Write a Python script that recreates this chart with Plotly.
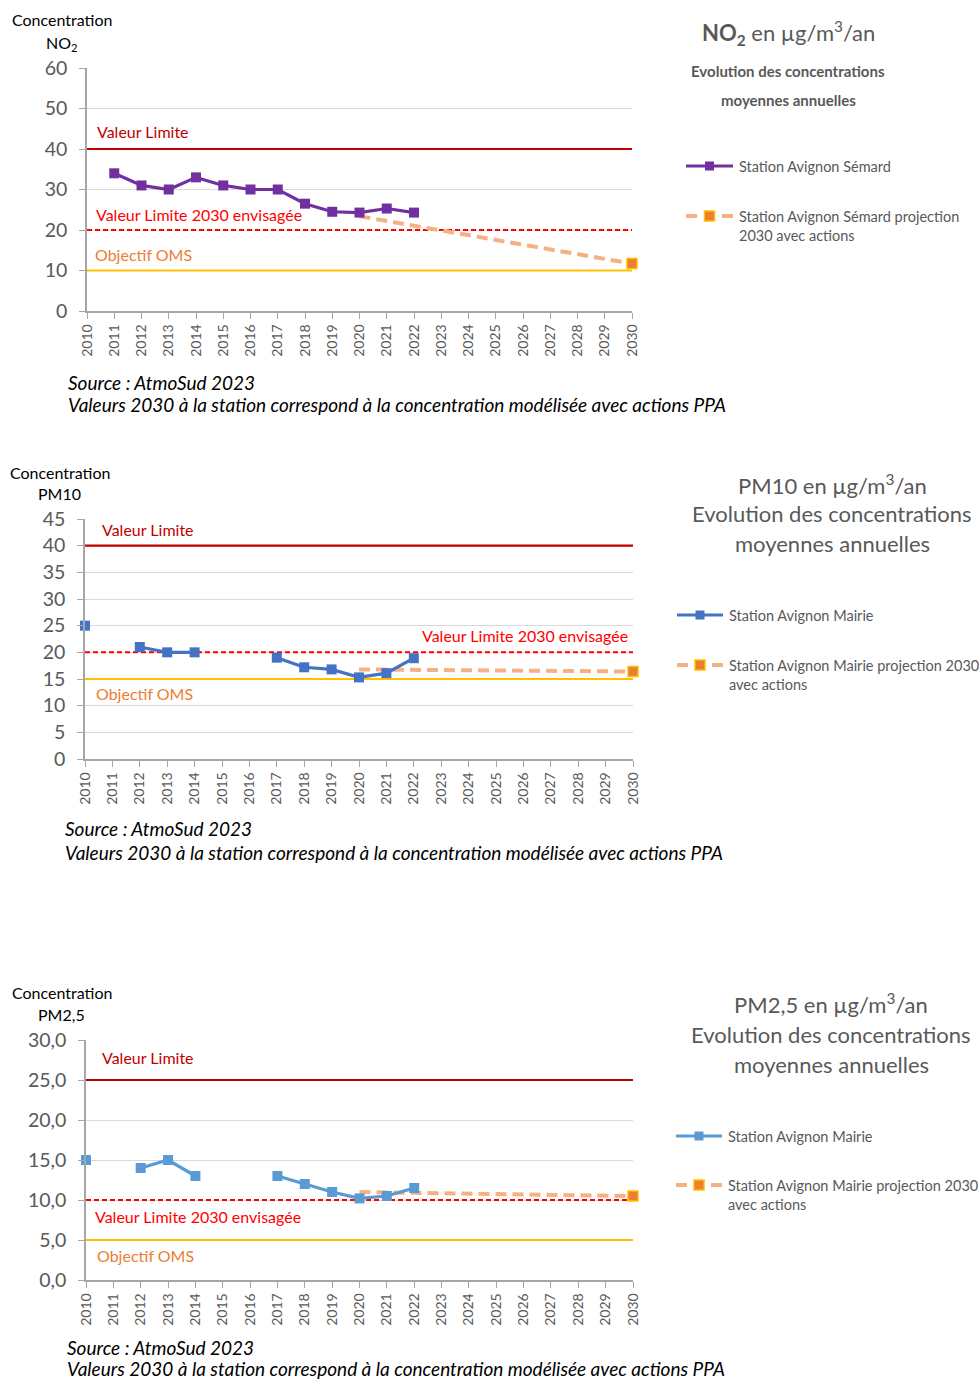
import plotly.graph_objects as go

W, H = 979, 1380

# NO2 - Station Avignon Sémard
no2_years = list(range(2011, 2023))
no2_values = [34, 31, 30, 33, 31, 30, 30, 26.5, 24.5, 24.3, 25.3, 24.3]
no2_proj_years = [2020, 2030]
no2_proj_values = [23.4, 11.7]
no2_limits = {"Valeur Limite": 40, "Valeur Limite 2030 envisagée": 20, "Objectif OMS": 10}

# PM10 - Station Avignon Mairie
pm10_years = list(range(2010, 2023))
pm10_values = [25, None, 21, 20, 20, None, None, 19, 17.2, 16.8, 15.3, 16.1, 18.9]
pm10_proj_years = [2020, 2030]
pm10_proj_values = [16.8, 16.4]
pm10_limits = {"Valeur Limite": 40, "Valeur Limite 2030 envisagée": 20, "Objectif OMS": 15}

# PM2,5 - Station Avignon Mairie
pm25_years = list(range(2010, 2023))
pm25_values = [15, None, 14, 15, 13, None, None, 13, 12, 11, 10.2, 10.5, 11.5]
pm25_proj_years = [2020, 2030]
pm25_proj_values = [11.0, 10.5]
pm25_limits = {"Valeur Limite": 25, "Valeur Limite 2030 envisagée": 10, "Objectif OMS": 5}

FONT = "Lato"
GREY_TXT = "#595959"
AXIS_GREY = "#A6A6A6"
GRID = "#D9D9D9"
C_LIMIT = "#C00000"
C_LIMIT30 = "#FF0000"
C_OMS_LINE = "#FFC000"
C_OMS_TXT = "#ED7D31"
C_PROJ = "#F4B183"
C_PROJ_MK = "#ED7D31"


def px(x):
    return x / W


def py(y):
    return 1 - y / H


fig = go.Figure()
annotations = []
shapes = []

panels = [
    dict(
        idx=1, x0=87, x1=632, ytop=68, ybot=311, yrange=[0, 60], dtick=10, fmt="d",
        yrs=no2_years, vals=no2_values, pyrs=no2_proj_years, pvals=no2_proj_values,
        limits=no2_limits, color="#7030A0",
        unit_lbl="NO<sub>2</sub>", unit_x=62, conc_x=10, conc_y=20, unit_y=43,
        lbl_pos={"Valeur Limite": (95, 131, "left"),
                 "Valeur Limite 2030 envisagée": (94, 214, "left"),
                 "Objectif OMS": (93, 255, "left")},
        title=["<b>NO<sub>2</sub></b> en µg/m<sup>3</sup>/an",
               "<b>Evolution des concentrations</b>", "<b>moyennes annuelles</b>"],
        title_x=788, title_y=[33, 71, 100], title_sizes=[22, 15, 15],
        leg_x0=686, leg_x1=733, leg_tx=737, leg_y=[166, 216],
        leg_names=["Station Avignon Sémard",
                   "Station Avignon Sémard projection<br>2030 avec actions"],
        src_x=66, src_y=[382, 405],
    ),
    dict(
        idx=2, x0=85, x1=633, ytop=519, ybot=759, yrange=[0, 45], dtick=5, fmt="d",
        yrs=pm10_years, vals=pm10_values, pyrs=pm10_proj_years, pvals=pm10_proj_values,
        limits=pm10_limits, color="#4472C4",
        unit_lbl="PM10", unit_x=59, conc_x=8, conc_y=472, unit_y=493,
        lbl_pos={"Valeur Limite": (100, 530, "left"),
                 "Valeur Limite 2030 envisagée": (630, 635, "right"),
                 "Objectif OMS": (94, 693, "left")},
        title=["PM10 en µg/m<sup>3</sup>/an", "Evolution des concentrations",
               "moyennes annuelles"],
        title_x=832, title_y=[484, 513, 543], title_sizes=[22, 22, 22],
        leg_x0=677, leg_x1=723, leg_tx=727, leg_y=[615, 665],
        leg_names=["Station Avignon Mairie",
                   "Station Avignon Mairie projection 2030<br>avec actions"],
        src_x=63, src_y=[828, 852],
    ),
    dict(
        idx=3, x0=86, x1=633, ytop=1040, ybot=1280, yrange=[0, 30], dtick=5, fmt=".1f",
        yrs=pm25_years, vals=pm25_values, pyrs=pm25_proj_years, pvals=pm25_proj_values,
        limits=pm25_limits, color="#5B9BD5",
        unit_lbl="PM2,5", unit_x=61, conc_x=10, conc_y=993, unit_y=1014,
        lbl_pos={"Valeur Limite": (100, 1057, "left"),
                 "Valeur Limite 2030 envisagée": (93, 1216, "left"),
                 "Objectif OMS": (95, 1255, "left")},
        title=["PM2,5 en µg/m<sup>3</sup>/an", "Evolution des concentrations",
               "moyennes annuelles"],
        title_x=831, title_y=[1004, 1034, 1064], title_sizes=[22, 22, 22],
        leg_x0=676, leg_x1=722, leg_tx=726, leg_y=[1136, 1185],
        leg_names=["Station Avignon Mairie",
                   "Station Avignon Mairie projection 2030<br>avec actions"],
        src_x=65, src_y=[1347, 1368],
    ),
]

limit_styles = {
    "Valeur Limite": dict(color=C_LIMIT, width=2.2, dash="solid"),
    "Valeur Limite 2030 envisagée": dict(color=C_LIMIT30, width=2, dash="5px,3px"),
    "Objectif OMS": dict(color=C_OMS_LINE, width=2, dash="solid"),
}
limit_text_colors = {
    "Valeur Limite": C_LIMIT,
    "Valeur Limite 2030 envisagée": C_LIMIT30,
    "Objectif OMS": C_OMS_TXT,
}

for p in panels:
    i = p["idx"]
    sfx = "" if i == 1 else str(i)
    xa, ya = "x" + sfx, "y" + sfx

    fig.update_layout(**{
        "xaxis" + sfx: dict(
            domain=[px(p["x0"]), px(p["x1"])], anchor=ya, range=[2010, 2030],
            tickmode="linear", tick0=2010, dtick=1, tickangle=-90,
            ticks="outside", ticklen=6, tickcolor=AXIS_GREY, tickwidth=1,
            showline=True, linecolor=AXIS_GREY, linewidth=1.5, showgrid=False,
            zeroline=False, automargin=False,
            tickfont=dict(size=14, color=GREY_TXT, family=FONT),
        ),
        "yaxis" + sfx: dict(
            domain=[py(p["ybot"]), py(p["ytop"])], anchor=xa, range=p["yrange"],
            tickmode="linear", tick0=0, dtick=p["dtick"], tickformat=p["fmt"],
            ticks="outside", ticklen=6, tickcolor=AXIS_GREY, tickwidth=1,
            ticklabelstandoff=8, automargin=False,
            showline=True, linecolor=AXIS_GREY, linewidth=1.5,
            showgrid=True, gridcolor=GRID, gridwidth=1.2, zeroline=False,
            tickfont=dict(size=19.5, color=GREY_TXT, family=FONT),
        ),
    })

    # reference thresholds
    for name, val in p["limits"].items():
        fig.add_trace(go.Scatter(
            x=[2010, 2030], y=[val, val], mode="lines", xaxis=xa, yaxis=ya,
            line=limit_styles[name], showlegend=False, hoverinfo="skip",
            cliponaxis=False,
        ))
        lx, ly, al = p["lbl_pos"][name]
        annotations.append(dict(
            x=px(lx), y=py(ly), xref="paper", yref="paper", text=name,
            showarrow=False, xanchor=al, yanchor="middle",
            font=dict(size=16, color=limit_text_colors[name], family=FONT),
        ))

    # projection with actions
    fig.add_trace(go.Scatter(
        x=p["pyrs"], y=p["pvals"], mode="lines", xaxis=xa, yaxis=ya,
        line=dict(color=C_PROJ, width=4, dash="11px,6px"),
        showlegend=False, cliponaxis=False,
    ))
    fig.add_trace(go.Scatter(
        x=[p["pyrs"][-1]], y=[p["pvals"][-1]], mode="markers", xaxis=xa, yaxis=ya,
        marker=dict(symbol="square", size=10, color=C_PROJ_MK,
                    line=dict(color=C_OMS_LINE, width=1.5)),
        showlegend=False, cliponaxis=False,
    ))

    # measured series
    fig.add_trace(go.Scatter(
        x=p["yrs"], y=p["vals"], mode="lines+markers", xaxis=xa, yaxis=ya,
        line=dict(color=p["color"], width=3.2), connectgaps=False,
        marker=dict(symbol="square", size=10, color=p["color"]),
        showlegend=False, cliponaxis=False,
    ))

    # axis caption
    annotations.append(dict(
        x=px(p["conc_x"]), y=py(p["conc_y"]), xref="paper", yref="paper",
        text="Concentration", showarrow=False, xanchor="left", yanchor="middle",
        font=dict(size=16, color="#000000", family=FONT),
    ))
    annotations.append(dict(
        x=px(p["unit_x"]), y=py(p["unit_y"]), xref="paper", yref="paper",
        text=p["unit_lbl"], showarrow=False, xanchor="center", yanchor="middle",
        font=dict(size=16, color="#000000", family=FONT),
    ))

    # chart title on the right
    for t, ty, ts in zip(p["title"], p["title_y"], p["title_sizes"]):
        annotations.append(dict(
            x=px(p["title_x"]), y=py(ty), xref="paper", yref="paper", text=t,
            showarrow=False, xanchor="center", yanchor="middle",
            font=dict(size=ts, color=GREY_TXT, family=FONT),
        ))

    # legend glyphs
    lx0, lx1 = p["leg_x0"], p["leg_x1"]
    lmid = (lx0 + lx1) / 2
    y1, y2 = p["leg_y"]
    shapes.append(dict(type="line", xref="paper", yref="paper",
                       x0=px(lx0), x1=px(lx1), y0=py(y1), y1=py(y1),
                       line=dict(color=p["color"], width=3.2)))
    shapes.append(dict(type="rect", xref="paper", yref="paper",
                       x0=px(lmid - 4.5), x1=px(lmid + 4.5),
                       y0=py(y1 + 4.5), y1=py(y1 - 4.5),
                       fillcolor=p["color"], line=dict(width=0)))
    for a, b in [(lx0, lx0 + 11), (lx1 - 11, lx1)]:
        shapes.append(dict(type="line", xref="paper", yref="paper",
                           x0=px(a), x1=px(b), y0=py(y2), y1=py(y2),
                           line=dict(color=C_PROJ, width=4)))
    shapes.append(dict(type="rect", xref="paper", yref="paper",
                       x0=px(lmid - 5), x1=px(lmid + 5),
                       y0=py(y2 + 5), y1=py(y2 - 5),
                       fillcolor=C_PROJ_MK, line=dict(color=C_OMS_LINE, width=1.5)))
    annotations.append(dict(
        x=px(p["leg_tx"]), y=py(y1), xref="paper", yref="paper",
        text=p["leg_names"][0], showarrow=False, xanchor="left", yanchor="middle",
        font=dict(size=14.5, color=GREY_TXT, family=FONT),
    ))
    annotations.append(dict(
        x=px(p["leg_tx"]), y=py(y2 - 10), xref="paper", yref="paper",
        text=p["leg_names"][1], showarrow=False, xanchor="left", yanchor="top",
        align="left", font=dict(size=14.5, color=GREY_TXT, family=FONT),
    ))

    # source notes
    for t, sy in zip(["Source : AtmoSud 2023",
                      "Valeurs 2030 à la station correspond à la concentration "
                      "modélisée avec actions PPA"], p["src_y"]):
        annotations.append(dict(
            x=px(p["src_x"]), y=py(sy), xref="paper", yref="paper",
            text="<i>" + t + "</i>", showarrow=False, xanchor="left",
            yanchor="middle", font=dict(size=19, color="#000000", family=FONT),
        ))

fig.update_layout(
    template="none",
    width=W, height=H, margin=dict(l=0, r=0, t=0, b=0, pad=0, autoexpand=False),
    paper_bgcolor="white", plot_bgcolor="white", separators=", ",
    showlegend=False, annotations=annotations, shapes=shapes,
    font=dict(family=FONT),
)

# page without default body margin so the figure fills the window exactly
fig.write_html(
    "out.html",
    post_script="document.body.style.margin='0';document.body.style.padding='0';",
)
